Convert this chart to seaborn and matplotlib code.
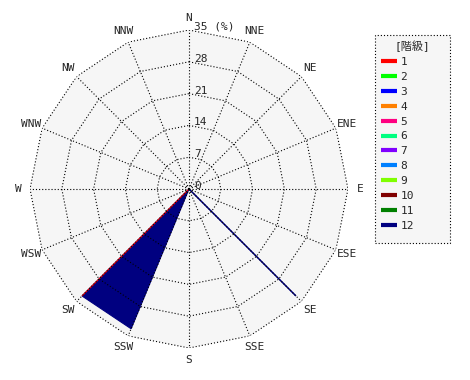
import numpy as np
import matplotlib
matplotlib.use("Agg")
import matplotlib.pyplot as plt
from matplotlib.lines import Line2D
from matplotlib.patches import Rectangle
import seaborn as sns

# ---------------- data ----------------
directions = ["N", "NNE", "NE", "ENE", "E", "ESE", "SE", "SSE",
              "S", "SSW", "SW", "WSW", "W", "WNW", "NW", "NNW"]
radial_ticks = [0, 7, 14, 21, 28, 35]
class_labels = ["1", "2", "3", "4", "5", "6", "7", "8", "9", "10", "11", "12"]
class_colors = ["#FF0000", "#00FF00", "#0000FF", "#FF8000", "#FF0080", "#00FF80",
                "#8000FF", "#0080FF", "#80FF00", "#800000", "#008000", "#000080"]

# frequency (%) of each class by direction (N ... NNW)
freq_1 = [0, 0, 0, 0, 0, 0, 0, 0, 0, 0, 33.3, 0, 0, 0, 0, 0]
freq_2 = [0, 0, 0, 0, 0, 0, 0, 0, 0, 0, 0, 0, 0, 0, 0, 0]
freq_3 = [0, 0, 0, 0, 0, 0, 0, 0, 0, 0, 0, 0, 0, 0, 0, 0]
freq_4 = [0, 0, 0, 0, 0, 0, 0, 0, 0, 0, 0, 0, 0, 0, 0, 0]
freq_5 = [0, 0, 0, 0, 0, 0, 0, 0, 0, 0, 0, 0, 0, 0, 0, 0]
freq_6 = [0, 0, 0, 0, 0, 0, 0, 0, 0, 0, 0, 0, 0, 0, 0, 0]
freq_7 = [0, 0, 0, 0, 0, 0, 0, 0, 0, 0, 0, 0, 0, 0, 0, 0]
freq_8 = [0, 0, 0, 0, 0, 0, 0, 0, 0, 0, 0, 0, 0, 0, 0, 0]
freq_9 = [0, 0, 0, 0, 0, 0, 0, 0, 0, 0, 0, 0, 0, 0, 0, 0]
freq_10 = [0, 0, 0, 0, 0, 0, 0, 0, 0, 0, 0, 0, 0, 0, 0, 0]
freq_11 = [0, 0, 0, 0, 0, 0, 0, 0, 0, 0, 0, 0, 0, 0, 0, 0]
freq_12 = [0, 0, 0, 0, 0, 0, 33.3, 0, 0, 33.3, 0, 0, 0, 0, 0, 0]

freqs = [freq_1, freq_2, freq_3, freq_4, freq_5, freq_6,
         freq_7, freq_8, freq_9, freq_10, freq_11, freq_12]

# ---------------- style ----------------
sns.set_style("white")
palette = sns.color_palette(class_colors)
plt.rcParams["font.family"] = ["DejaVu Sans Mono", "Noto Sans CJK JP"]
FS = 8
BG = "#f6f6f6"
DOT = (0, (1, 1.8))

fig = plt.figure(figsize=(4.7, 3.8), dpi=100)
cx, cy, R = 189, 189, 159  # pixel centre and radius
ax = fig.add_axes([(cx - R) / 470, (380 - cy - R) / 380, 2 * R / 470, 2 * R / 380],
                  projection="polar")
ax.set_theta_zero_location("N")
ax.set_theta_direction(-1)
ax.set_ylim(0, radial_ticks[-1])
ax.grid(False)
ax.set_xticks([])
ax.set_yticks([])
ax.spines["polar"].set_visible(False)
ax.patch.set_visible(False)

n = len(directions)
theta = np.arange(n) * 2 * np.pi / n
theta_c = np.append(theta, theta[0])
rmax = radial_ticks[-1]

# background polygon
ax.fill(theta_c, np.full(n + 1, rmax), color=BG, zorder=0, lw=0)

# stacked class polygons (cumulative), largest first; classes with no data skipped
freq_arr = np.array(freqs, dtype=float)
cum = np.cumsum(freq_arr, axis=0)
for k in range(len(freqs) - 1, -1, -1):
    if not np.any(freq_arr[k] > 0):
        continue
    vals = cum[k]
    r_c = np.append(vals, vals[0])
    ax.fill(theta_c, r_c, facecolor=palette[k], edgecolor=palette[k],
            lw=0.8, zorder=2 + (len(freqs) - k) * 0.01)

# grid: polygons and spokes (drawn above the fills)
grid_kw = dict(color="black", lw=0.8, ls=DOT, zorder=4)
for r in radial_ticks[1:]:
    ax.plot(theta_c, np.full(n + 1, r), **grid_kw)
for t in theta:
    ax.plot([t, t], [0, rmax], **grid_kw)

# radial tick labels
for r in radial_ticks:
    lab = f"{r} (%)" if r == rmax else f"{r}"
    ax.annotate(lab, xy=(0, r), xytext=(5, 3), textcoords="offset pixels",
                ha="left", va="center", fontsize=FS, zorder=5)

# direction labels
for t, d in zip(theta, directions):
    ax.text(t, rmax * 171 / 159, d, ha="center", va="center", fontsize=FS)

# legend box (drawn separately) and legend contents
fig.patches.append(Rectangle((375 / 470, (380 - 243) / 380), 75 / 470, 208 / 380,
                             transform=fig.transFigure, facecolor=BG,
                             edgecolor="black", lw=0.8, ls=DOT, zorder=0))
handles = [Line2D([0], [0], color=palette[i], lw=3, solid_capstyle="butt")
           for i in range(len(class_labels))]
leg = fig.legend(handles, class_labels, title="[階級]",
                 loc="upper left",
                 bbox_to_anchor=(375 / 470, (380 - 243) / 380, 75 / 470, 208 / 380),
                 mode="expand", borderaxespad=0, fontsize=FS, title_fontsize=FS,
                 handlelength=1.45, handletextpad=0.35, labelspacing=0.44,
                 borderpad=0.5, frameon=False)

fig.savefig("out.png", dpi=100)
